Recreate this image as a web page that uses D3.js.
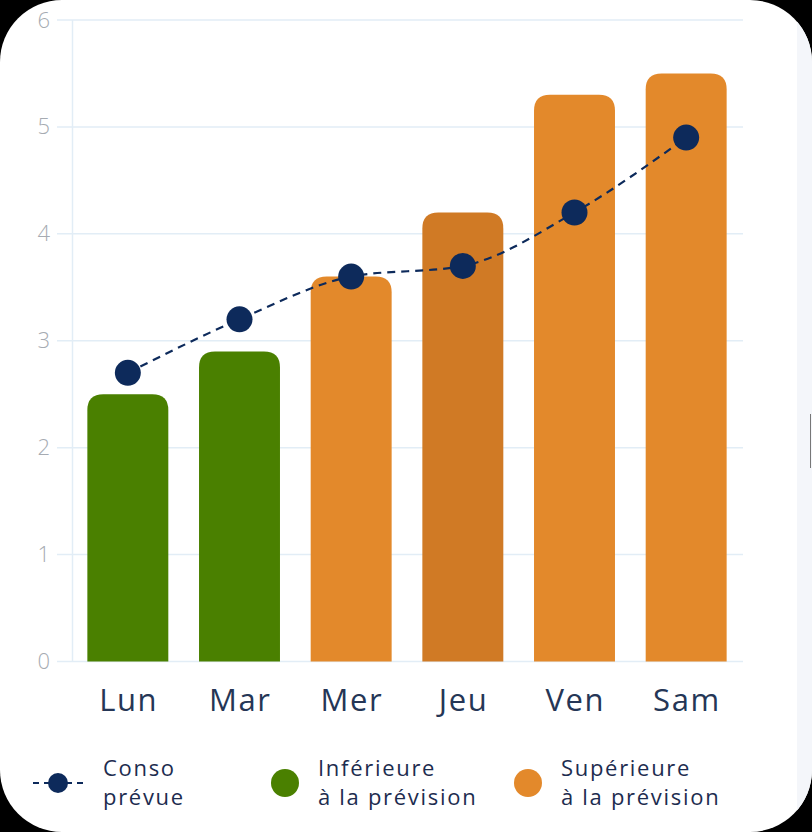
<!DOCTYPE html>
<html><head><meta charset="utf-8">
<script src="https://cdn.jsdelivr.net/npm/d3@7/dist/d3.min.js"></script>
<style>html,body{margin:0;padding:0;background:#000;}svg{display:block;}</style>
</head><body>
<svg id="c" width="812" height="832"></svg>
<script>
const categories = ["Lun","Mar","Mer","Jeu","Ven","Sam"];
const actual = [2.5, 2.9, 3.6, 4.2, 5.3, 5.5];
const forecast = [2.7, 3.2, 3.6, 3.7, 4.2, 4.9];
const barStatus = ["low","low","high","highDark","high","high"];
const yTicks = [0,1,2,3,4,5,6];
const legendItems = [
  {key:"line", lines:["Conso","prévue"]},
  {key:"low", lines:["Inférieure","à la prévision"]},
  {key:"high", lines:["Supérieure","à la prévision"]}
];
const colors = {low:"#4a8000", high:"#e3892b", highDark:"#d07a25", navy:"#0d2a5b", text:"#1d2c4f"};

const svg = d3.select("#c");
const W = 812, H = 832;
svg.append("defs").append("clipPath").attr("id","card")
  .append("rect").attr("x",0).attr("y",0).attr("width",W).attr("height",H).attr("rx",62).attr("ry",62);
svg.append("rect").attr("width",W).attr("height",H).attr("fill","#000");
const card = svg.append("g").attr("clip-path","url(#card)");
card.append("rect").attr("width",W).attr("height",H).attr("fill","#fff");
card.append("rect").attr("x",797).attr("y",0).attr("width",15).attr("height",H).attr("fill","#f4f6fa");
card.append("line").attr("x1",810.5).attr("x2",810.5).attr("y1",414).attr("y2",468).attr("stroke","#777").attr("stroke-width",1);

const x = d3.scaleBand().domain(categories).range([72,742]).paddingInner(0.275).paddingOuter(0.1375);
const y = d3.scaleLinear().domain([0,6]).range([661.5,20]);

const g = card.append("g");
// grid
g.selectAll("line.grid").data(yTicks).join("line")
  .attr("x1",57).attr("x2",743).attr("y1",d=>y(d)).attr("y2",d=>y(d))
  .attr("stroke","#e2edf6").attr("stroke-width",1.5);
g.append("line").attr("x1",72.5).attr("x2",72.5).attr("y1",y(6)).attr("y2",y(0))
  .attr("stroke","#e2edf6").attr("stroke-width",1.5);

// y axis labels
const yAxis = d3.axisLeft(y).tickValues(yTicks).tickSize(0).tickPadding(0).tickFormat(d3.format("d"));
const ya = g.append("g").attr("transform","translate(50,0)").call(yAxis);
ya.select(".domain").remove();
ya.selectAll("text").attr("font-family","Open Sans, sans-serif").attr("font-size",22).attr("fill","#a6abb2").attr("font-weight",300);

// x axis labels
const xAxis = d3.axisBottom(x).tickSize(0).tickPadding(0);
const xa = g.append("g").attr("transform","translate(0,689)").call(xAxis);
xa.select(".domain").remove();
xa.selectAll("text").attr("font-family","Open Sans, sans-serif").attr("font-size",31).attr("fill","#253656")
  .attr("letter-spacing","1.6px").attr("dx","0.8px").attr("dy","0.71em");

// bars with rounded top corners
function barPath(x0, w, yTop, yBot, r){
  r = Math.min(r, w/2, yBot-yTop);
  return `M${x0},${yBot}V${yTop+r}Q${x0},${yTop} ${x0+r},${yTop}H${x0+w-r}Q${x0+w},${yTop} ${x0+w},${yTop+r}V${yBot}Z`;
}
g.selectAll("path.bar").data(categories).join("path")
  .attr("d",(d,i)=>barPath(x(d), x.bandwidth(), y(actual[i]), y(0), 16))
  .attr("fill",(d,i)=>colors[barStatus[i]]);

// forecast line
const pts = categories.map((c,i)=>[x(c)+x.bandwidth()/2, y(forecast[i])]);
g.append("path").attr("d", d3.line().curve(d3.curveMonotoneX)(pts))
  .attr("fill","none").attr("stroke",colors.navy).attr("stroke-width",2.2).attr("stroke-dasharray","8,6");
g.selectAll("circle.pt").data(pts).join("circle")
  .attr("cx",d=>d[0]).attr("cy",d=>d[1]).attr("r",13).attr("fill",colors.navy);

// legend
const lg = card.append("g");
const legX = [{sym:58, text:103},{sym:285, text:318},{sym:528, text:561}];
legendItems.forEach((it,i)=>{
  const cy = 783;
  if(it.key==="line"){
    lg.append("line").attr("x1",33).attr("x2",85).attr("y1",cy).attr("y2",cy)
      .attr("stroke",colors.navy).attr("stroke-width",2).attr("stroke-dasharray","6,5");
    lg.append("circle").attr("cx",legX[i].sym).attr("cy",cy).attr("r",10).attr("fill",colors.navy);
  } else {
    lg.append("circle").attr("cx",legX[i].sym).attr("cy",cy).attr("r",14).attr("fill",colors[it.key]);
  }
  const t = lg.append("text").attr("x",legX[i].text).attr("y",776)
    .attr("font-family","Open Sans, sans-serif").attr("font-size",22).attr("fill",colors.text)
    .attr("letter-spacing","1.7px");
  it.lines.forEach((l,j)=>t.append("tspan").attr("x",legX[i].text).attr("dy", j?29:0).text(l));
});
</script>
</body></html>
